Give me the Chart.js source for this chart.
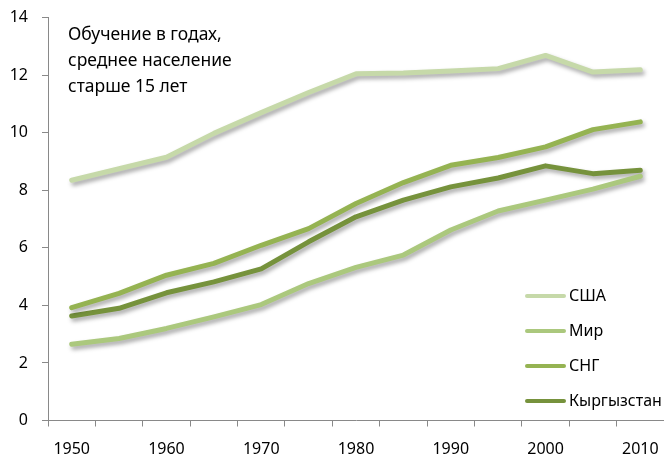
<!DOCTYPE html>
<html><head><meta charset="utf-8">
<script src="https://cdn.jsdelivr.net/npm/chart.js@4"></script>
<style>html,body{margin:0;padding:0;background:#fff;overflow:hidden;}#wrap{width:664px;height:458px;}</style>
</head><body><div id="wrap"><canvas id="c" width="664" height="458"></canvas></div>
<script>
const years = ['1950','1955','1960','1965','1970','1975','1980','1985','1990','1995','2000','2005','2010'];
const usa = [8.35,8.75,9.15,9.98,10.7,11.4,12.05,12.08,12.15,12.23,12.69,12.11,12.19];
const world = [2.65,2.85,3.2,3.6,4.03,4.76,5.32,5.75,6.62,7.28,7.66,8.04,8.49];
const cis = [3.92,4.42,5.05,5.46,6.09,6.67,7.54,8.27,8.87,9.14,9.51,10.11,10.38];
const kyrg = [3.63,3.9,4.44,4.82,5.27,6.21,7.08,7.66,8.12,8.43,8.85,8.58,8.7];
const seriesNames = ['США','Мир','СНГ','Кыргызстан'];
const titleLines = ['Обучение в годах,','среднее население','старше 15 лет'];
const yTicks = [0,2,4,6,8,10,12,14];

const FONT = '"Noto Sans", "Open Sans", sans-serif';
const colors = ['#c6d9a9','#abc87d','#95b352','#76923c'];

const stretchPlugin = {
  id:'stretch',
  afterLayout(chart){
    const s = chart.scales.x, W = chart.width, d = W - s.right;
    if (d > 0.5) {
      s.right = W; s.width += d;
      chart.chartArea.right = W; chart.chartArea.width += d;
      s.configure();
    }
  }
};
const shadowPlugin = {
  id:'shadow',
  beforeDatasetDraw(chart){ const c=chart.ctx; c.save(); c.shadowColor='rgba(0,0,0,0.35)'; c.shadowBlur=4; c.shadowOffsetX=2; c.shadowOffsetY=3; },
  afterDatasetDraw(chart){ chart.ctx.restore(); }
};
const overlayPlugin = {
  id:'overlay',
  afterDraw(chart){
    const c=chart.ctx, a=chart.chartArea;
    c.save();
    c.fillStyle='#000'; c.textBaseline='alphabetic'; c.textAlign='left';
    c.font='17.5px '+FONT;
    titleLines.forEach((t,i)=>c.fillText(t, a.left+20, 39.5+i*26.3));
    const ds=chart.data.datasets;
    c.font='16px '+FONT; c.textBaseline='middle';
    ds.forEach((d,i)=>{
      const y=296+i*35;
      c.strokeStyle=d.borderColor; c.lineWidth=4; c.lineCap='round';
      c.beginPath(); c.moveTo(527,y); c.lineTo(564,y); c.stroke();
      c.fillStyle='#000'; c.fillText(d.label,569,y);
    });
    c.restore();
  }
};

new Chart(document.getElementById('c'),{
  type:'line',
  data:{labels:years,datasets:[usa,world,cis,kyrg].map((v,i)=>({label:seriesNames[i],data:v,borderColor:colors[i],backgroundColor:colors[i],borderWidth:5,pointRadius:0,tension:0,fill:false,borderCapStyle:'round',borderJoinStyle:'round'}))},
  options:{
    responsive:false,animation:false,
    layout:{autoPadding:false,padding:{left:0,right:0,top:17.7,bottom:0}},
    plugins:{legend:{display:false},tooltip:{enabled:false}},
    scales:{
      x:{type:'category',offset:true,
        afterFit:(s)=>{s.height=37.5;s.paddingLeft=0;s.paddingRight=0;},
        grid:{display:true,drawOnChartArea:false,drawTicks:true,tickLength:6,color:'#898989',offset:true},
        border:{display:true,color:'#898989',width:1},
        ticks:{autoSkip:false,maxRotation:0,padding:0,color:'#000',font:{family:FONT,size:16,lineHeight:2.9},callback:(v,i)=>i%2===0?years[i]:''}
      },
      y:{min:0,max:14,
        afterFit:(s)=>{s.width=48;s.paddingTop=0;s.paddingBottom=0;},
        afterBuildTicks:(s)=>{s.ticks=yTicks.map(v=>({value:v}));},
        grid:{display:true,drawOnChartArea:false,drawTicks:true,tickLength:6,color:'#898989'},
        border:{display:true,color:'#898989',width:1},
        ticks:{padding:14,color:'#000',font:{family:FONT,size:16,lineHeight:0.2}}
      }
    }
  },
  plugins:[stretchPlugin,shadowPlugin,overlayPlugin]
});
</script></body></html>
